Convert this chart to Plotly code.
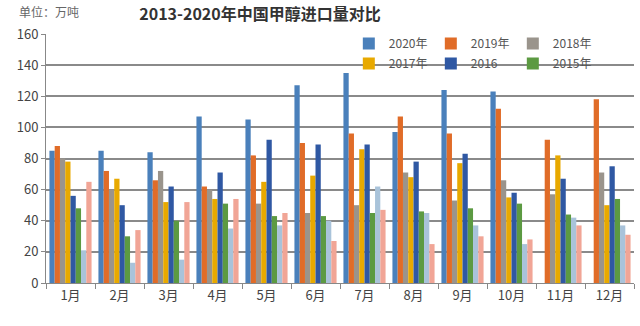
import plotly.graph_objects as go

months = ["1月", "2月", "3月", "4月", "5月", "6月", "7月", "8月", "9月", "10月", "11月", "12月"]
series_names = ["2020年", "2019年", "2018年", "2017年", "2016", "2015年", "2014年", "2013年"]
v2020 = [85, 85, 84, 107, 105, 127, 135, 97, 124, 123, None, None]
v2019 = [88, 72, 66, 62, 82, 90, 96, 107, 96, 112, 92, 118]
v2018 = [80, 60, 72, 60, 51, 45, 50, 71, 53, 66, 57, 71]
v2017 = [78, 67, 52, 54, 65, 69, 86, 68, 77, 55, 82, 50]
v2016 = [56, 50, 62, 71, 92, 89, 89, 78, 83, 58, 67, 75]
v2015 = [48, 30, 40, 51, 43, 43, 45, 46, 48, 51, 44, 54]
v2014 = [21, 13, 15, 35, 37, 40, 62, 45, 37, 25, 42, 37]
v2013 = [65, 34, 52, 54, 45, 27, 47, 25, 30, 28, 37, 31]
values = [v2020, v2019, v2018, v2017, v2016, v2015, v2014, v2013]
colors = ["#4a80bb", "#e06c28", "#9a948c", "#e8a900", "#2f58a3", "#5c9a42", "#a9c3da", "#f1a596"]
in_legend = [True, True, True, True, True, True, False, False]
legend_ids = ["legend", "legend", "legend", "legend2", "legend2", "legend2", "legend", "legend"]

fig = go.Figure()
for name, vals, col, leg, lid in zip(series_names, values, colors, in_legend, legend_ids):
    fig.add_trace(go.Bar(x=months, y=vals, name=name, marker_color=col,
                         marker_line_width=0, showlegend=leg, legend=lid))

leg_common = dict(orientation="h", xanchor="left", yanchor="top", traceorder="normal",
                  font=dict(size=12, color="#555555"), bgcolor="rgba(0,0,0,0)",
                  itemwidth=30, entrywidth=37, entrywidthmode="pixels")

fig.update_layout(
    width=640, height=326,
    margin=dict(l=46, r=6, t=34, b=43),
    paper_bgcolor="white", plot_bgcolor="white",
    barmode="group", bargap=0.14, bargroupgap=0,
    font=dict(family="Noto Sans CJK SC, sans-serif", color="#444444"),
    title=dict(text="<b>2013-2020年中国甲醇进口量对比</b>", x=260/640, xanchor="center",
               y=0.955, yanchor="middle", font=dict(size=16, color="#333333")),
    legend=dict(x=0.515, y=1.02, **leg_common),
    legend2=dict(x=0.515, y=0.94, **leg_common),
    yaxis=dict(range=[0, 160], dtick=20, showgrid=True, gridcolor="#8a8a8a", gridwidth=1.5,
               showline=True, linecolor="#888888", ticks="outside", ticklen=4, tickcolor="#888888",
               tickfont=dict(size=13, color="#444444"), zeroline=False),
    xaxis=dict(showline=True, linecolor="#888888", ticks="outside", tickcolor="#888888",
               tickson="boundaries", ticklen=5, tickfont=dict(size=13, color="#444444")),
)
fig.add_annotation(text="单位：万吨", xref="paper", yref="paper", x=-0.05, y=1.09,
                   xanchor="left", yanchor="middle", showarrow=False,
                   font=dict(size=12, color="#666666"))
fig.write_html("out.html")
